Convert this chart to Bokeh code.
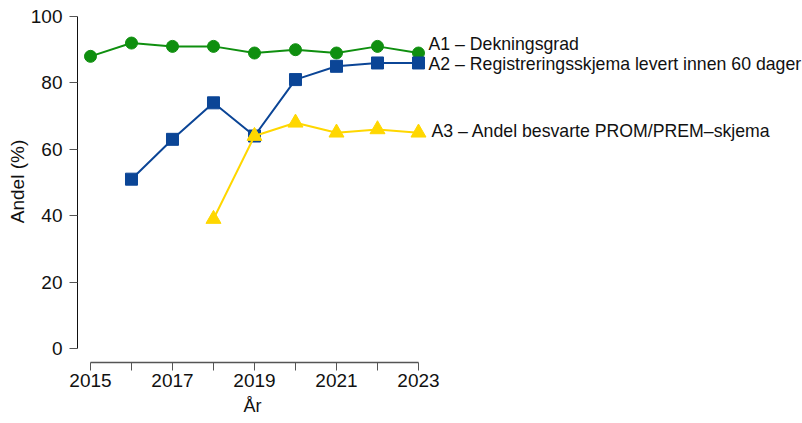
from bokeh.plotting import figure
from bokeh.models import Range1d, FixedTicker, ColumnDataSource, Title
from bokeh.core.properties import value
from bokeh.embed import file_html
from bokeh.resources import INLINE

# ---- data ----
years_a1 = [2015, 2016, 2017, 2018, 2019, 2020, 2021, 2022, 2023]
a1 = [88, 92, 91, 91, 89, 90, 89, 91, 89]
years_a2 = [2016, 2017, 2018, 2019, 2020, 2021, 2022, 2023]
a2 = [51, 63, 74, 64, 81, 85, 86, 86]
years_a3 = [2018, 2019, 2020, 2021, 2022, 2023]
a3 = [39, 64, 68, 65, 66, 65]
labels = ["A1 \u2013 Dekningsgrad",
          "A2 \u2013 Registreringsskjema levert innen 60 dager",
          "A3 \u2013 Andel besvarte PROM/PREM\u2013skjema"]
x_ticks = [2015, 2016, 2017, 2018, 2019, 2020, 2021, 2022, 2023]
x_tick_labels = ["2015", "", "2017", "", "2019", "", "2021", "", "2023"]
y_ticks = [0, 20, 40, 60, 80, 100]
x_title = "\u00c5r"
y_title = "Andel (%)"

GREEN = "#0f8f0f"
BLUE = "#0b4596"
YELLOW = "#ffd700"
FONT = "Liberation Sans"
TXT = "#111111"

p = figure(width=802, height=423, output_backend="svg", toolbar_location=None,
           x_range=Range1d(2014.683, 2032.366), y_range=Range1d(-4.217, 104.82),
           min_border_left=77, min_border_right=0, min_border_top=0,
           min_border_bottom=61)
p.outline_line_color = None
p.grid.visible = False
p.background_fill_color = "white"

# lines + markers
p.line(years_a1, a1, line_color=GREEN, line_width=2)
p.scatter(years_a1, a1, marker="circle", size=12, fill_color=GREEN, line_color=GREEN)
p.line(years_a2, a2, line_color=BLUE, line_width=2)
p.scatter(years_a2, a2, marker="square", size=12, fill_color=BLUE, line_color=BLUE)
p.line(years_a3, a3, line_color=YELLOW, line_width=2)
p.scatter(years_a3, a3, marker="triangle", size=15, fill_color=YELLOW, line_color=YELLOW)

# end labels (slightly spread apart like the original)
lab_x = [years_a1[-1], years_a2[-1], years_a3[-1]]
lab_y = [91.6, 85.6, 65.6]
lab_dx = [10, 10, 13]
src = ColumnDataSource(dict(x=lab_x, y=lab_y, t=labels, dx=lab_dx))
p.text("x", "y", text="t", source=src, x_offset="dx", text_baseline="middle",
       text_align="left", text_font=value(FONT), text_font_size="17.7px",
       text_color=TXT)

# axes
xa = p.xaxis[0]
xa.ticker = FixedTicker(ticks=x_ticks)
xa.major_label_overrides = {t: l for t, l in zip(x_ticks, x_tick_labels)}
xa.bounds = (x_ticks[0], x_ticks[-1])
xa.axis_line_color = "#555555"
xa.major_tick_line_color = "#555555"
xa.axis_line_width = 1.5
xa.major_tick_out = 8
xa.major_tick_in = 0
xa.minor_tick_line_color = None
xa.major_label_standoff = 3
xa.major_label_text_font = FONT
xa.major_label_text_font_size = "19px"
xa.major_label_text_color = TXT

# x title centred under the bounded axis (2015..2023), as in the original
p.add_layout(Title(text=x_title, align="left", offset=166, standoff=8,
                   text_font=FONT, text_font_size="18px",
                   text_font_style="normal", text_color=TXT), "below")

ya = p.yaxis[0]
ya.ticker = FixedTicker(ticks=y_ticks)
ya.bounds = (y_ticks[0], y_ticks[-1])
ya.axis_label = y_title
ya.axis_line_color = "#111111"
ya.major_tick_line_color = "#555555"
ya.major_tick_out = 8
ya.major_tick_in = 0
ya.minor_tick_line_color = None
ya.major_label_standoff = 7
ya.axis_label_standoff = 0
ya.major_label_text_font = FONT
ya.major_label_text_font_size = "19px"
ya.major_label_text_color = TXT
ya.axis_label_text_font = FONT
ya.axis_label_text_font_size = "19px"
ya.axis_label_text_font_style = "normal"
ya.axis_label_text_color = TXT

open("out.html", "w").write(file_html(p, INLINE))
